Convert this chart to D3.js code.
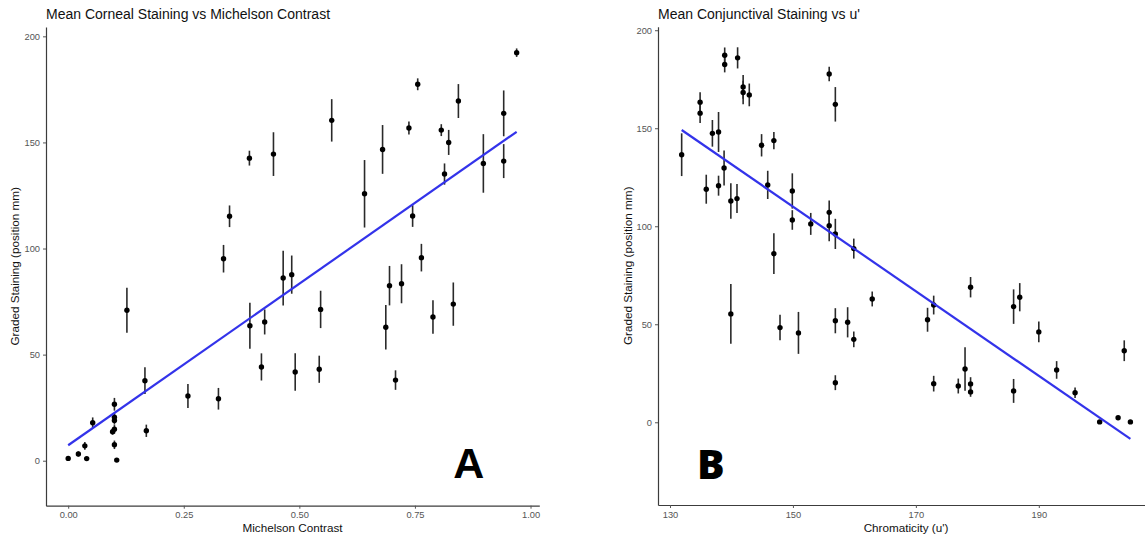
<!DOCTYPE html>
<html>
<head>
<meta charset="utf-8">
<script src="https://cdn.jsdelivr.net/npm/d3@7"></script>
<style>
  body { margin: 0; background: #fff; }
  svg { display: block; font-family: "Liberation Sans", Arial, sans-serif; }
</style>
</head>
<body>
<svg width="1145" height="538"></svg>
<script>
// Panel A: Michelson contrast vs corneal staining
const contrast = [0.000, 0.022, 0.036, 0.040, 0.053, 0.096, 0.100, 0.100, 0.100, 0.100, 0.100, 0.105,
  0.127, 0.166, 0.169, 0.259, 0.325, 0.336, 0.349, 0.392, 0.393, 0.418, 0.425, 0.444, 0.465, 0.4835,
  0.491, 0.543, 0.546, 0.570, 0.641, 0.680, 0.687, 0.695, 0.708, 0.721, 0.737, 0.745, 0.756, 0.764,
  0.789, 0.807, 0.814, 0.823, 0.833, 0.844, 0.898, 0.942, 0.942, 0.970];
const cornealMean = [1.1, 3.2, 7.0, 1.0, 17.9, 13.7, 14.8, 19.0, 20.5, 26.6, 7.5, 0.3,
  70.9, 37.7, 14.1, 30.5, 29.2, 95.2, 115.2, 142.6, 63.6, 44.2, 65.4, 144.5, 86.1, 87.7,
  41.8, 43.1, 71.3, 160.4, 125.8, 146.7, 62.9, 82.5, 38.0, 83.4, 156.8, 115.3, 177.4, 95.7,
  67.7, 155.8, 135.1, 150.0, 73.8, 169.5, 140.1, 163.7, 141.2, 192.3];
const cornealErr = [0.5, 1.2, 1.8, 0.5, 2.5, 1.5, 2, 2, 2, 3, 2, 0.5,
  10.6, 6.3, 2.9, 5.7, 5.1, 6.5, 5.1, 3.5, 10.8, 6.4, 5.9, 10.3, 12.9, 9,
  8.8, 6.4, 8.8, 10, 15.9, 11.5, 10.5, 9.3, 4.6, 9.2, 3.1, 5.1, 2.8, 6.5,
  7.9, 2.8, 5, 5.9, 10.2, 8, 13.8, 10.8, 8, 2];
const cornealFit = [[0, 7.3], [0.97, 155]];

// Panel B: u' chromaticity vs conjunctival staining
const chromaticity = [131.9, 134.9, 134.9, 135.9, 136.9, 137.9, 137.9, 138.8, 138.9, 138.9, 139.9, 139.9,
  140.9, 141.0, 141.9, 141.9, 142.9, 144.9, 145.9, 146.9, 146.9, 147.9, 149.9, 149.9, 150.9, 152.9,
  155.9, 155.9, 155.9, 156.9, 156.9, 156.9, 156.9, 158.9, 159.9, 159.9, 162.9, 171.9, 172.9, 172.9,
  176.9, 178.0, 178.9, 178.9, 178.9, 185.9, 185.9, 186.9, 190.0, 192.9, 195.9, 199.9, 202.9, 204.9, 203.9];
const conjMean = [136.5, 163.3, 157.7, 118.9, 147.4, 148.1, 120.7, 129.7, 187.2, 182.5, 112.9, 55.3,
  114.1, 185.9, 171.1, 168.2, 167.0, 141.3, 121.1, 143.7, 86.0, 48.3, 118.0, 103.2, 45.6, 101.2,
  177.7, 107.1, 100.3, 162.2, 96.1, 51.8, 20.2, 51.0, 88.6, 42.3, 62.9, 52.3, 59.8, 19.7,
  18.5, 27.2, 68.9, 19.5, 15.5, 59.0, 16.0, 63.8, 46.1, 26.7, 15.1, 0.2, 2.3, 0.2, 36.5];
const conjErr = [10.9, 5, 5, 7.4, 6.8, 10.2, 5.1, 8.9, 4, 4, 9.1, 15.3,
  7.4, 5.4, 6, 6, 5.8, 5.7, 7.2, 4.4, 10.4, 6.5, 9, 5, 10.7, 5.6,
  3.7, 6, 8, 8.8, 7.7, 6.4, 3.8, 7.7, 5.1, 4, 3.8, 6.1, 4.8, 4,
  3.8, 11.1, 5.2, 3.5, 2.5, 8.8, 6.1, 7.2, 5.3, 4.5, 2.7, 0.5, 0.5, 0.5, 5.3];
const conjFit = [[131.9, 149.1], [204.9, -8.5]];

const stainingTicks = [0, 50, 100, 150, 200];
const contrastTicks = [0, 0.25, 0.5, 0.75, 1];
const chromaTicks = [130, 150, 170, 190];

const svg = d3.select('svg');

function drawPanel(opt) {
    const x = d3.scaleLinear().domain(opt.xDomain).range(opt.xRange);
    const y = d3.scaleLinear().domain(opt.yDomain).range(opt.yRange);
    const g = svg.append('g');

    const pts = opt.xs.map((v, i) => ({ x: v, y: opt.ys[i], e: opt.es[i] }));

    // error bars
    g.selectAll('.err')
        .data(pts)
        .enter().append('line')
        .attr('x1', d => x(d.x))
        .attr('x2', d => x(d.x))
        .attr('y1', d => y(d.y - d.e))
        .attr('y2', d => y(d.y + d.e))
        .attr('stroke', '#2a2a2a')
        .attr('stroke-width', 1.6);

    g.selectAll('.pt')
        .data(pts)
        .enter().append('circle')
        .attr('cx', d => x(d.x))
        .attr('cy', d => y(d.y))
        .attr('r', 2.7)
        .attr('fill', '#000');

    // fitted line
    g.append('path')
        .datum(opt.fit)
        .attr('d', d3.line().x(d => x(d[0])).y(d => y(d[1])))
        .attr('fill', 'none')
        .attr('stroke', '#3333ea')
        .attr('stroke-width', 2.2);

    // axes
    const xAxis = g.append('g')
        .attr('transform', `translate(0, ${opt.yRange[0]})`)
        .call(d3.axisBottom(x).tickValues(opt.xTicks).tickFormat(opt.xFormat).tickSize(3).tickPadding(3).tickSizeOuter(0));
    const yAxis = g.append('g')
        .attr('transform', `translate(${opt.xRange[0]}, 0)`)
        .call(d3.axisLeft(y).tickValues(stainingTicks).tickSize(3).tickPadding(3).tickSizeOuter(0));

    [xAxis, yAxis].forEach(a => {
        a.select('.domain').attr('stroke', '#3c3c3c').attr('stroke-width', 1.2);
        a.selectAll('.tick line').attr('stroke', '#555');
        a.selectAll('.tick text')
            .attr('fill', '#555')
            .style('font-size', '9.3px')
            .style('font-family', '"Liberation Sans", Arial, sans-serif');
    });

    const midX = (opt.xRange[0] + Math.min(opt.xRange[1], 1145 + 9)) / 2;
    g.append('text')
        .attr('x', opt.xTitleX)
        .attr('y', 532)
        .attr('text-anchor', 'middle')
        .style('font-size', '11.7px')
        .attr('fill', '#111')
        .text(opt.xTitle);

    g.append('text')
        .attr('transform', `translate(${opt.yTitleX}, ${(opt.yRange[0] + opt.yRange[1]) / 2}) rotate(-90)`)
        .attr('text-anchor', 'middle')
        .style('font-size', '11.7px')
        .attr('fill', '#111')
        .text('Graded Staining (position mm)');

    g.append('text')
        .attr('x', opt.xRange[0])
        .attr('y', 19)
        .style('font-size', '14px')
        .attr('fill', '#111')
        .text(opt.title);

    g.append('text')
        .attr('x', x(opt.tag[0]))
        .attr('y', y(opt.tag[1]))
        .style('font-size', opt.tagSize)
        .style('font-family', opt.tagFont)
        .style('font-weight', '900')
        .attr('fill', '#000')
        .text(opt.tag[2]);
}

drawPanel({
    xs: contrast, ys: cornealMean, es: cornealErr, fit: cornealFit,
    xDomain: [-0.048, 1.019], xRange: [46, 539.3],
    yDomain: [-21.2, 204.4], yRange: [505.7, 27],
    xTicks: contrastTicks, xFormat: d3.format('.2f'),
    xTitle: 'Michelson Contrast', xTitleX: 292.5, yTitleX: 19,
    title: 'Mean Corneal Staining vs Michelson Contrast',
    tag: [0.833, -8.2, 'A'], tagSize: '43px', tagFont: '"Liberation Sans", Arial, sans-serif'
});

drawPanel({
    xs: chromaticity, ys: conjMean, es: conjErr, fit: conjFit,
    xDomain: [128.05, 208.74], xRange: [658, 1154],
    yDomain: [-42.2, 201.8], yRange: [505, 26.7],
    xTicks: chromaTicks, xFormat: d3.format('d'),
    xTitle: "Chromaticity (u')", xTitleX: 906, yTitleX: 632,
    title: "Mean Conjunctival Staining vs u'",
    tag: [134.4, -29, 'B'], tagSize: '41px', tagFont: '"Open Sans", sans-serif'
});
</script>
</body>
</html>
